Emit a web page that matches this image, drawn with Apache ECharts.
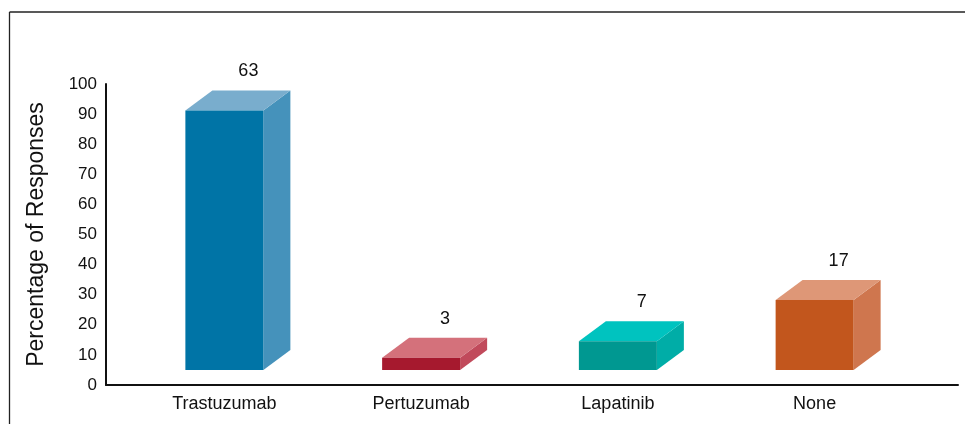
<!DOCTYPE html>
<html>
<head>
<meta charset="utf-8">
<script src="https://cdn.jsdelivr.net/npm/echarts@6/dist/echarts.min.js"></script>
<style>
  html, body { margin: 0; padding: 0; background: #fff; }
  #chart { width: 965px; height: 424px; }
</style>
</head>
<body>
<div id="chart"></div>
<script>
// Treatment options and number of responses for each
const categories = ['Trastuzumab', 'Pertuzumab', 'Lapatinib', 'None'];
const responses = [63, 3, 7, 17];
const yTicks = [0, 10, 20, 30, 40, 50, 60, 70, 80, 90, 100];

// Face colours per block: front, top, side
const palette = [
  { front: '#0074A6', top: '#79ADCD', side: '#4592BB' },
  { front: '#A6192E', top: '#D4717B', side: '#C14A5B' },
  { front: '#009891', top: '#00C3BF', side: '#00ADA7' },
  { front: '#C2561D', top: '#DE9777', side: '#CF764E' }
];

const FONT = '"Liberation Sans", Arial, Helvetica, sans-serif';
const DEPTH_X = 27, DEPTH_Y = 20, FRONT_W = 78;

function renderBlock(params, api) {
  const idx = api.value(0);
  const base = api.coord([idx, 0]);
  const top = api.coord([idx, api.value(1)]);
  const c = palette[params.dataIndex];
  const x = base[0] - FRONT_W / 2;
  const xr = x + FRONT_W;
  const yb = base[1];
  const yt = top[1];
  return {
    type: 'group',
    children: [
      {
        type: 'polygon',
        shape: { points: [[xr, yt], [xr + DEPTH_X, yt - DEPTH_Y], [xr + DEPTH_X, yb - DEPTH_Y], [xr, yb]] },
        style: { fill: c.side }
      },
      {
        type: 'polygon',
        shape: { points: [[x, yt], [x + DEPTH_X, yt - DEPTH_Y], [xr + DEPTH_X, yt - DEPTH_Y], [xr, yt]] },
        style: { fill: c.top }
      },
      {
        type: 'rect',
        shape: { x: x, y: yt, width: FRONT_W, height: yb - yt },
        style: { fill: c.front }
      },
      {
        type: 'text',
        style: {
          text: String(api.value(1)),
          x: base[0] + 24,
          y: yt - DEPTH_Y - 19,
          align: 'center',
          verticalAlign: 'middle',
          font: '18px ' + FONT,
          fill: '#111'
        }
      }
    ]
  };
}

const chart = echarts.init(document.getElementById('chart'), null, { renderer: 'canvas' });

chart.setOption({
  animation: false,
  backgroundColor: '#fff',
  grid: [
    { left: 106, right: 7, top: 84, bottom: 39 },
    { left: 126, right: 52, top: 81.6, bottom: 54 }
  ],
  xAxis: [
    {
      gridIndex: 0,
      type: 'category',
      data: categories,
      axisLine: { lineStyle: { color: '#111', width: 2 } },
      axisTick: { show: false },
      axisLabel: { show: false }
    },
    {
      gridIndex: 1,
      type: 'category',
      data: categories,
      axisLine: { show: false },
      axisTick: { show: false },
      axisLabel: { margin: 25, fontSize: 18, fontFamily: FONT, color: '#111' }
    }
  ],
  yAxis: [
    {
      gridIndex: 0,
      type: 'value',
      min: yTicks[0],
      max: yTicks[yTicks.length - 1],
      interval: 10,
      name: 'Percentage of Responses',
      nameLocation: 'middle',
      nameGap: 58,
      nameTextStyle: { fontSize: 23, fontFamily: FONT, color: '#111' },
      axisLine: { show: true, lineStyle: { color: '#111', width: 2 } },
      axisTick: { show: false },
      splitLine: { show: false },
      axisLabel: { margin: 9, fontSize: 17, fontFamily: FONT, color: '#111' }
    },
    {
      gridIndex: 1,
      type: 'value',
      min: 0,
      max: 70,
      show: false
    }
  ],
  series: [
    {
      type: 'custom',
      xAxisIndex: 1,
      yAxisIndex: 1,
      renderItem: renderBlock,
      encode: { x: 0, y: 1 },
      data: responses.map((v, i) => [i, v])
    }
  ],
  graphic: [
    { type: 'line', shape: { x1: 9.5, y1: 12, x2: 965, y2: 12 }, style: { stroke: '#222', lineWidth: 1.3 } },
    { type: 'line', shape: { x1: 9.5, y1: 12, x2: 9.5, y2: 424 }, style: { stroke: '#222', lineWidth: 1.3 } }
  ]
});
</script>
</body>
</html>
